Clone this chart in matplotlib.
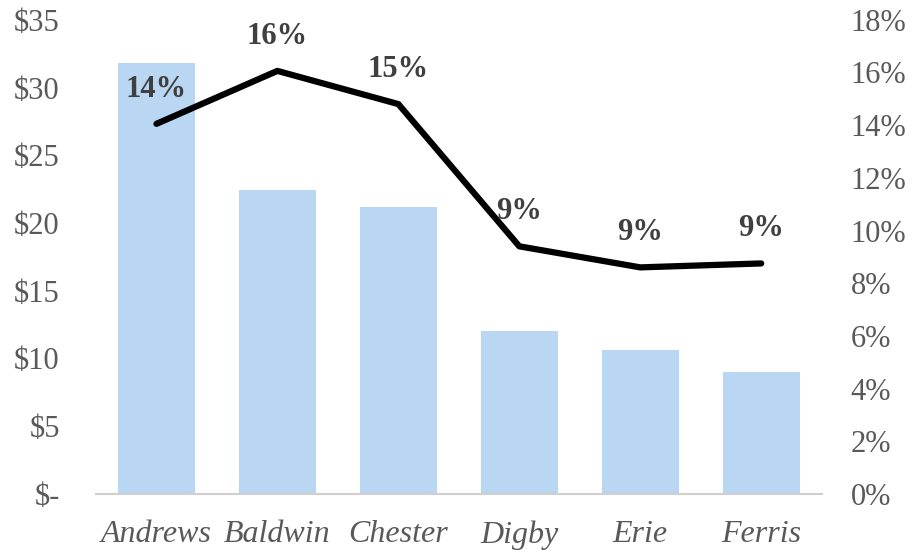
import matplotlib

matplotlib.use("Agg")
import matplotlib.pyplot as plt
from matplotlib.ticker import FuncFormatter

companies = ["Andrews", "Baldwin", "Chester", "Digby", "Erie", "Ferris"]
price = [31.8, 22.4, 21.2, 12.0, 10.6, 9.0]
margin = [14.05, 16.06, 14.8, 9.4, 8.6, 8.75]
margin_labels = ["14%", "16%", "15%", "9%", "9%", "9%"]

plt.rcParams["font.family"] = ["Liberation Serif", "DejaVu Serif"]

fig = plt.figure(figsize=(9.14, 5.5), dpi=100)
ax = fig.add_axes([0.105, 0.102, 0.794, 0.862])
ax2 = ax.twinx()

x = range(len(companies))
ax.bar(x, price, width=0.64, color="#B9D7F3", zorder=2)
ax.set_xlim(-0.5, len(companies) - 0.5)
ax.set_ylim(0, 35)
ax.set_yticks(range(0, 36, 5))
ax.yaxis.set_major_formatter(FuncFormatter(lambda v, p: "$-" if v == 0 else f"${v:.0f}"))
ax.set_xticks(list(x))
ax.set_xticklabels(companies, style="italic", fontsize=23)

ax2.plot(x, margin, color="black", lw=4.5, solid_capstyle="round", zorder=3)
ax2.set_ylim(0, 18)
ax2.set_yticks(range(0, 19, 2))
ax2.yaxis.set_major_formatter(FuncFormatter(lambda v, p: f"{v:.0f}%"))
for xi, yi, lab in zip(x, margin, margin_labels):
    ax2.annotate(lab, (xi, yi), xytext=(0, 25), textcoords="offset points",
                 ha="center", va="center", fontsize=22, fontweight="bold",
                 color="#404040")

for a in (ax, ax2):
    for s in a.spines.values():
        s.set_visible(False)
    a.tick_params(length=0, labelsize=22, labelcolor="#595959")
ax.spines["bottom"].set_visible(True)
ax.spines["bottom"].set_color("#D0D0D0")
ax.spines["bottom"].set_linewidth(1.5)
ax.tick_params(axis="x", pad=19, labelsize=23)
ax.tick_params(axis="y", pad=26)
ax2.tick_params(axis="y", pad=21)

fig.savefig("out.png", dpi=100)
